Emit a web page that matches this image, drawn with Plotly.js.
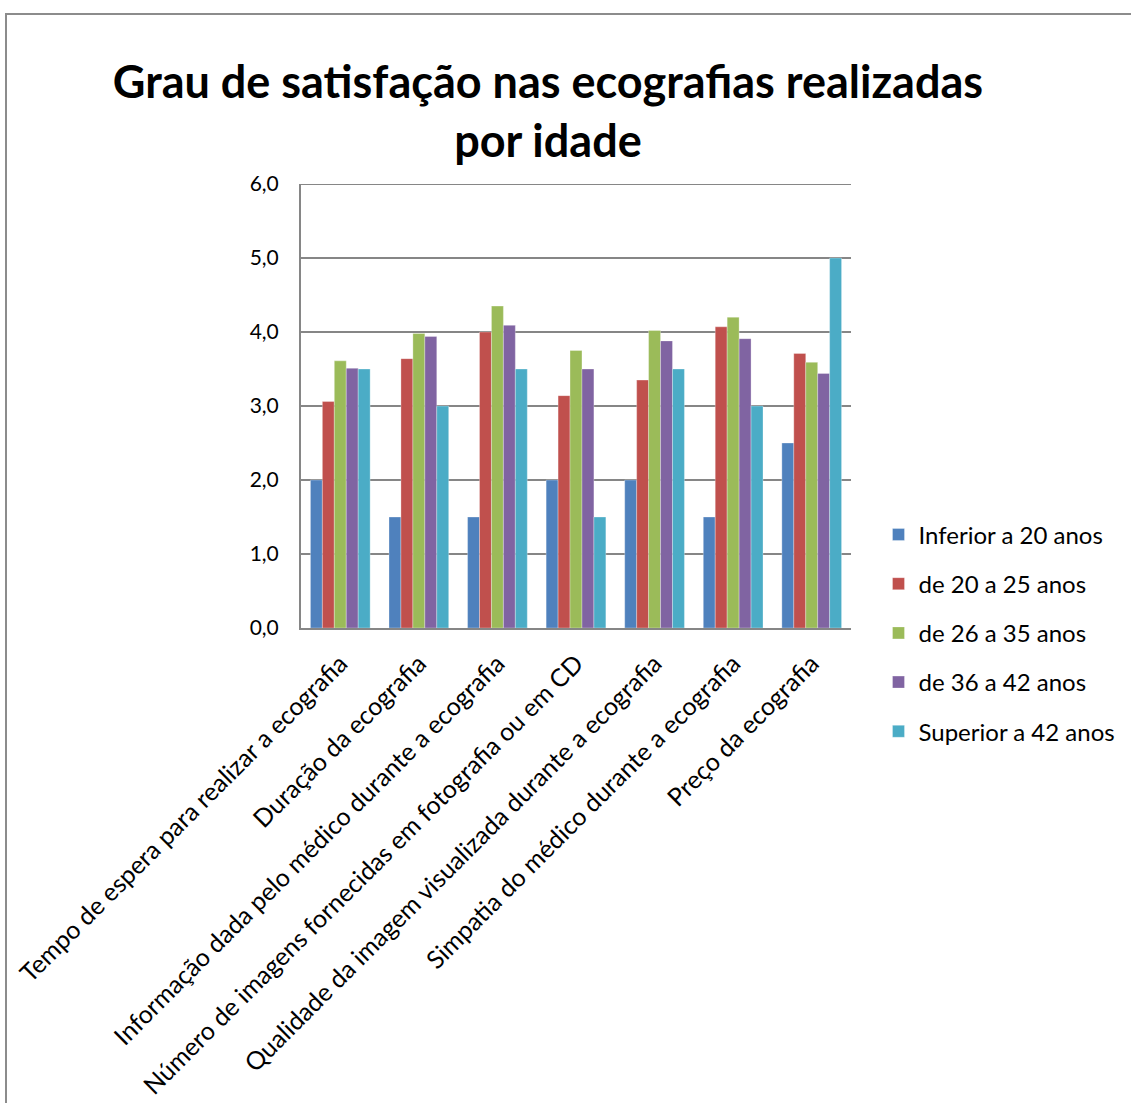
<!DOCTYPE html>
<html>
<head>
<meta charset="utf-8">
<script src="https://cdn.plot.ly/plotly-3.0.1.min.js"></script>
<style>
html,body{margin:0;padding:0;background:#fff;overflow:hidden;width:1131px;height:1103px;}
#frame{position:absolute;left:5px;top:13px;width:1140px;height:1100px;border-left:2px solid #8c8c8c;border-top:2px solid #8c8c8c;}
#chart{position:absolute;left:0;top:0;width:1126px;height:1090px;}
</style>
</head>
<body>
<div id="frame"><div id="chart"></div></div>
<script>
const categories = [
  "Tempo de espera para realizar a ecografia",
  "Duração da ecografia",
  "Informação dada pelo médico durante a ecografia",
  "Número de imagens fornecidas em fotografia ou em CD",
  "Qualidade da imagem visualizada durante a ecografia",
  "Simpatia do médico durante a ecografia",
  "Preço da ecografia"
];
const seriesNames = ["Inferior a 20 anos","de 20 a 25 anos","de 26 a 35 anos","de 36 a 42 anos","Superior a 42 anos"];
const inferior20 = [2.0, 1.5, 1.5, 2.0, 2.0, 1.5, 2.5];
const de20a25 = [3.06, 3.64, 4.0, 3.14, 3.35, 4.07, 3.71];
const de26a35 = [3.61, 3.98, 4.35, 3.75, 4.02, 4.2, 3.59];
const de36a42 = [3.51, 3.94, 4.09, 3.5, 3.88, 3.91, 3.44];
const superior42 = [3.5, 3.0, 3.5, 1.5, 3.5, 3.0, 5.0];
const colors = ["#4F81BD","#C0504D","#9BBB59","#8064A2","#4BACC6"];
const yTicks = [0,1,2,3,4,5,6];
const yMax = 6;

const allSeries = [inferior20, de20a25, de26a35, de36a42, superior42];
const traces = allSeries.map((vals, i) => ({
  type: "bar",
  name: seriesNames[i],
  x: categories,
  y: vals,
  legendgroup: "g" + i,
  marker: {color: colors[i], line: {color: "rgba(255,255,255,0.6)", width: 0.5}},
  hoverinfo: "y+name"
}));

const FONT = "Lato, 'Open Sans', sans-serif";
const layout = {
  width: 1126, height: 1090,
  margin: {l: 294, r: 276, t: 169, b: 477, pad: 0},
  paper_bgcolor: "#fff", plot_bgcolor: "#fff",
  font: {family: FONT, color: "#000", size: 20},
  separators: ",.",
  title: {
    text: "<b>Grau de satisfação nas ecografias realizadas<br>por idade</b>",
    font: {family: FONT, size: 45, color: "#000"},
    x: 0.449, xanchor: "center", xref: "paper",
    y: 1 - 83/1090, yanchor: "top", yref: "container"
  },
  barmode: "group",
  bargap: 0.24,
  bargroupgap: 0,
  xaxis: {
    type: "category",
    tickangle: -45,
    showline: true, linecolor: "#868686", linewidth: 2,
    ticks: "",
    ticklabelstandoff: 9,
    showgrid: false,
    tickfont: {family: FONT, size: 25, color: "#000"}
  },
  yaxis: {
    range: [0, yMax],
    tickvals: yTicks,
    tickformat: ".1f",
    showline: true, linecolor: "#868686", linewidth: 2,
    ticks: "",
    ticklabelstandoff: 16,
    showgrid: true, gridcolor: "#868686", gridwidth: 2,
    zeroline: false,
    tickfont: {family: FONT, size: 21, color: "#000"}
  },
  shapes: [{
    type: "line", xref: "paper", x0: 0, x1: 1, yref: "y", y0: yMax, y1: yMax,
    line: {color: "#868686", width: 2}, layer: "below"
  }],
  showlegend: true,
  legend: {
    x: 1.05, xanchor: "left", y: -0.011, yanchor: "middle",
    traceorder: "grouped",
    tracegroupgap: 15,
    font: {family: FONT, size: 24, color: "#000"},
    bgcolor: "rgba(0,0,0,0)",
    itemwidth: 30
  }
};

Plotly.newPlot("chart", traces, layout, {displayModeBar: false, staticPlot: true});
</script>
</body>
</html>
